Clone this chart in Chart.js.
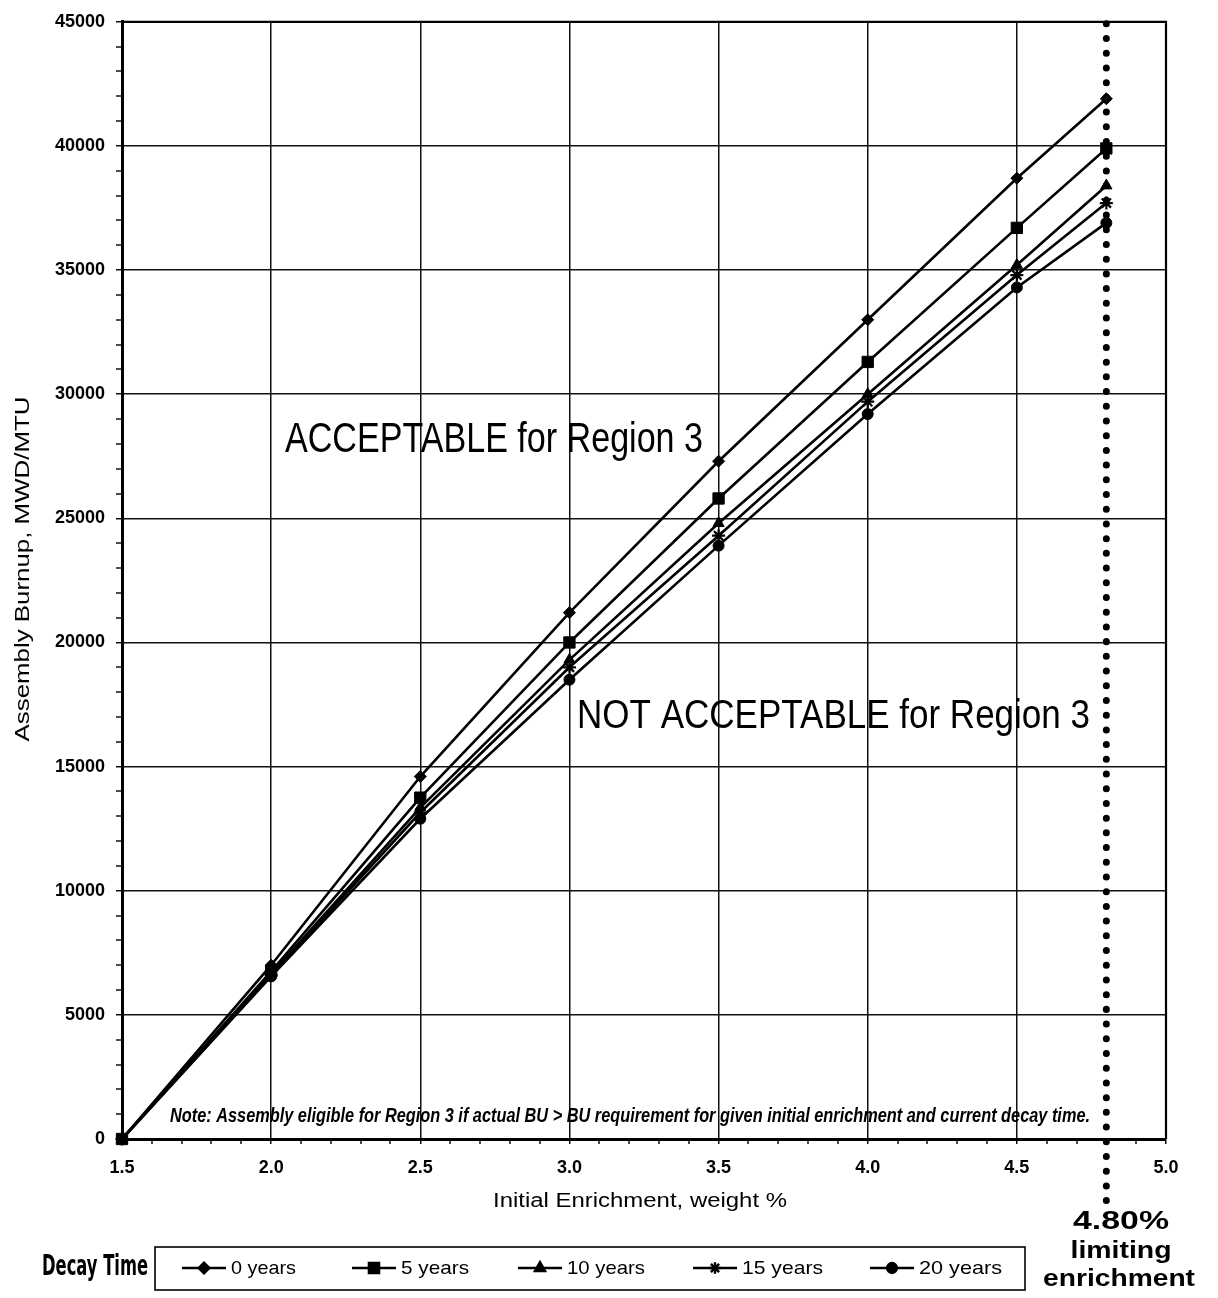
<!DOCTYPE html>
<html>
<head>
<meta charset="utf-8">
<script src="https://cdn.jsdelivr.net/npm/chart.js@4.4.1/dist/chart.umd.min.js"></script>
<style>
html,body{margin:0;padding:0;background:#fff;}
#wrap{position:relative;width:1218px;height:1298px;}
canvas{display:block;}
</style>
</head>
<body>
<div id="wrap"><canvas id="c" width="1218" height="1298"></canvas></div>
<script>
// ---- data ----
const enrichment = [1.5, 2.0, 2.5, 3.0, 3.5, 4.0, 4.5, 4.8];
const burnup0yr  = [0, 7000, 14600, 21200, 27300, 33000, 38700, 41900];
const burnup5yr  = [0, 6750, 13750, 20000, 25800, 31300, 36700, 39900];
const burnup10yr = [0, 6650, 13350, 19300, 24800, 30000, 35200, 38400];
const burnup15yr = [0, 6600, 13150, 19000, 24300, 29700, 34800, 37700];
const burnup20yr = [0, 6550, 12900, 18500, 23900, 29200, 34300, 36900];
const seriesNames = ['0 years', '5 years', '10 years', '15 years', '20 years'];
const xTickLabels = ['1.5', '2.0', '2.5', '3.0', '3.5', '4.0', '4.5', '5.0'];
const yTickLabels = ['0', '5000', '10000', '15000', '20000', '25000', '30000', '35000', '40000', '45000'];
const limitingEnrichment = 4.8;

const seriesValues = [burnup0yr, burnup5yr, burnup10yr, burnup15yr, burnup20yr];
const pointStyles = ['rectRot', 'rect', 'triangle', 'star', 'circle'];
const pointRadii = [6, 8, 6.5, 6.5, 5.5];

const datasets = seriesNames.map((name, i) => ({
  label: name,
  data: enrichment.map((x, j) => ({x: x, y: seriesValues[i][j]})),
  borderColor: '#000',
  backgroundColor: '#000',
  borderWidth: 2.6,
  pointStyle: pointStyles[i],
  pointRadius: pointRadii[i],
  pointBackgroundColor: '#000',
  pointBorderColor: '#000',
  pointBorderWidth: i === 3 ? 2.2 : 1,
  tension: 0,
  clip: false
}));

function drawFit(ctx, text, x, y, font, targetWidth, align) {
  ctx.save();
  ctx.font = font;
  ctx.textBaseline = 'middle';
  ctx.textAlign = 'left';
  const w = ctx.measureText(text).width;
  const sx = targetWidth ? targetWidth / w : 1;
  let left = x;
  if (align === 'center') left = x - (w * sx) / 2;
  else if (align === 'right') left = x - w * sx;
  ctx.translate(left, y);
  ctx.scale(sx, 1);
  ctx.fillStyle = '#000';
  ctx.fillText(text, 0, 0);
  ctx.restore();
}

const decorations = {
  id: 'decorations',
  afterDatasetsDraw(chart) {
    const ctx = chart.ctx;
    const a = chart.chartArea;
    const xs = chart.scales.x;
    // top and right frame
    ctx.save();
    ctx.strokeStyle = '#000';
    ctx.lineWidth = 2.2;
    ctx.beginPath();
    ctx.moveTo(a.left, a.top);
    ctx.lineTo(a.right, a.top);
    ctx.lineTo(a.right, a.bottom);
    ctx.stroke();
    ctx.restore();

    // limiting enrichment dotted line
    const xl = xs.getPixelForValue(limitingEnrichment);
    ctx.save();
    ctx.strokeStyle = '#000';
    ctx.lineWidth = 7;
    ctx.lineCap = 'round';
    ctx.setLineDash([0.01, 14.7]);
    ctx.beginPath();
    ctx.moveTo(xl, a.top + 2);
    ctx.lineTo(xl, 1212);
    ctx.stroke();
    ctx.restore();

    // region texts
    drawFit(ctx, 'ACCEPTABLE for Region 3', 285, 440, '42px "Liberation Sans", Arial, sans-serif', 418, 'left');
    drawFit(ctx, 'NOT ACCEPTABLE for Region 3', 577, 717, '41px "Liberation Sans", Arial, sans-serif', 513, 'left');
    drawFit(ctx, 'Note: Assembly eligible for Region 3 if actual BU > BU requirement for given initial enrichment and current decay time.',
      170, 1116, 'italic bold 21px "Liberation Sans", Arial, sans-serif', 920, 'left');

    // axis titles
    drawFit(ctx, 'Initial Enrichment, weight %', 640, 1201, '20px "Liberation Sans", Arial, sans-serif', 294, 'center');
    ctx.save();
    ctx.translate(23, 569);
    ctx.rotate(-Math.PI / 2);
    drawFit(ctx, 'Assembly Burnup, MWD/MTU', 0, 0, '20px "Liberation Sans", Arial, sans-serif', 345, 'center');
    ctx.restore();

    // limiting enrichment label
    drawFit(ctx, '4.80%', 1121, 1222, 'bold 26px "Liberation Sans", Arial, sans-serif', 96, 'center');
    drawFit(ctx, 'limiting', 1121, 1252, 'bold 23px "Liberation Sans", Arial, sans-serif', 101, 'center');
    drawFit(ctx, 'enrichment', 1119, 1280, 'bold 23px "Liberation Sans", Arial, sans-serif', 152, 'center');

    // legend
    drawFit(ctx, 'Decay Time', 42, 1268, 'bold 28px "DejaVu Sans Condensed", "Liberation Sans", sans-serif', 106, 'left');
    ctx.save();
    ctx.strokeStyle = '#000';
    ctx.lineWidth = 1.6;
    ctx.strokeRect(155, 1247, 870, 43);
    ctx.restore();
    const lineStarts = [182, 352, 518, 693, 870];
    const textWidths = [65, 68, 78, 81, 83];
    chart.data.datasets.forEach((ds, i) => {
      const x0 = lineStarts[i];
      const y = 1268;
      ctx.save();
      ctx.strokeStyle = '#000';
      ctx.fillStyle = '#000';
      ctx.lineWidth = 2.4;
      ctx.beginPath();
      ctx.moveTo(x0, y);
      ctx.lineTo(x0 + 44, y);
      ctx.stroke();
      Chart.helpers.drawPoint(ctx, {
        pointStyle: ds.pointStyle,
        radius: ds.pointRadius * 0.9,
        borderWidth: ds.pointBorderWidth,
        rotation: 0
      }, x0 + 22, y);
      ctx.restore();
      drawFit(ctx, ds.label, x0 + 49, y + 1, '19px "Liberation Sans", Arial, sans-serif', textWidths[i], 'left');
    });
  }
};

new Chart(document.getElementById('c'), {
  type: 'line',
  data: {datasets: datasets},
  options: {
    responsive: false,
    devicePixelRatio: 1,
    animation: false,
    events: [],
    layout: {padding: {left: 0, top: 16, right: 52, bottom: 84}},
    plugins: {legend: {display: false}, tooltip: {enabled: false}},
    scales: {
      x: {
        type: 'linear',
        min: 1.5,
        max: 5.0,
        afterFit: s => { s.height = 75; },
        border: {display: true, color: '#000', width: 3},
        grid: {
          color: c => (c.tick && xTickLabels.some(l => Math.abs(parseFloat(l) - c.tick.value) < 1e-6)) ? '#111' : 'rgba(0,0,0,0)',
          lineWidth: c => (c.tick && xTickLabels.some(l => Math.abs(parseFloat(l) - c.tick.value) < 1e-6)) ? 1.5 : 0,
          tickColor: '#000',
          tickWidth: 1.4,
          tickLength: 5,
          drawTicks: true
        },
        ticks: {
          stepSize: 0.1,
          autoSkip: false,
          maxRotation: 0,
          padding: 13,
          color: '#000',
          font: {family: '"Liberation Sans", Arial, sans-serif', size: 18, weight: 'bold'},
          callback: v => {
            const l = xTickLabels.find(t => Math.abs(parseFloat(t) - v) < 1e-6);
            return l === undefined ? '' : l;
          }
        }
      },
      y: {
        type: 'linear',
        min: 0,
        max: 45000,
        afterFit: s => { s.width = 122; },
        border: {display: true, color: '#000', width: 3},
        grid: {
          color: c => (c.tick && yTickLabels.includes(String(c.tick.value))) ? '#111' : 'rgba(0,0,0,0)',
          lineWidth: c => (c.tick && yTickLabels.includes(String(c.tick.value))) ? 1.5 : 0,
          tickColor: '#000',
          tickWidth: 1.4,
          tickLength: 6,
          drawTicks: true
        },
        ticks: {
          stepSize: 1000,
          autoSkip: false,
          padding: 11,
          color: '#000',
          font: {family: '"Liberation Sans", Arial, sans-serif', size: 18, weight: 'bold'},
          callback: v => yTickLabels.includes(String(v)) ? String(v) : ''
        }
      }
    }
  },
  plugins: [decorations]
});
</script>
</body>
</html>
